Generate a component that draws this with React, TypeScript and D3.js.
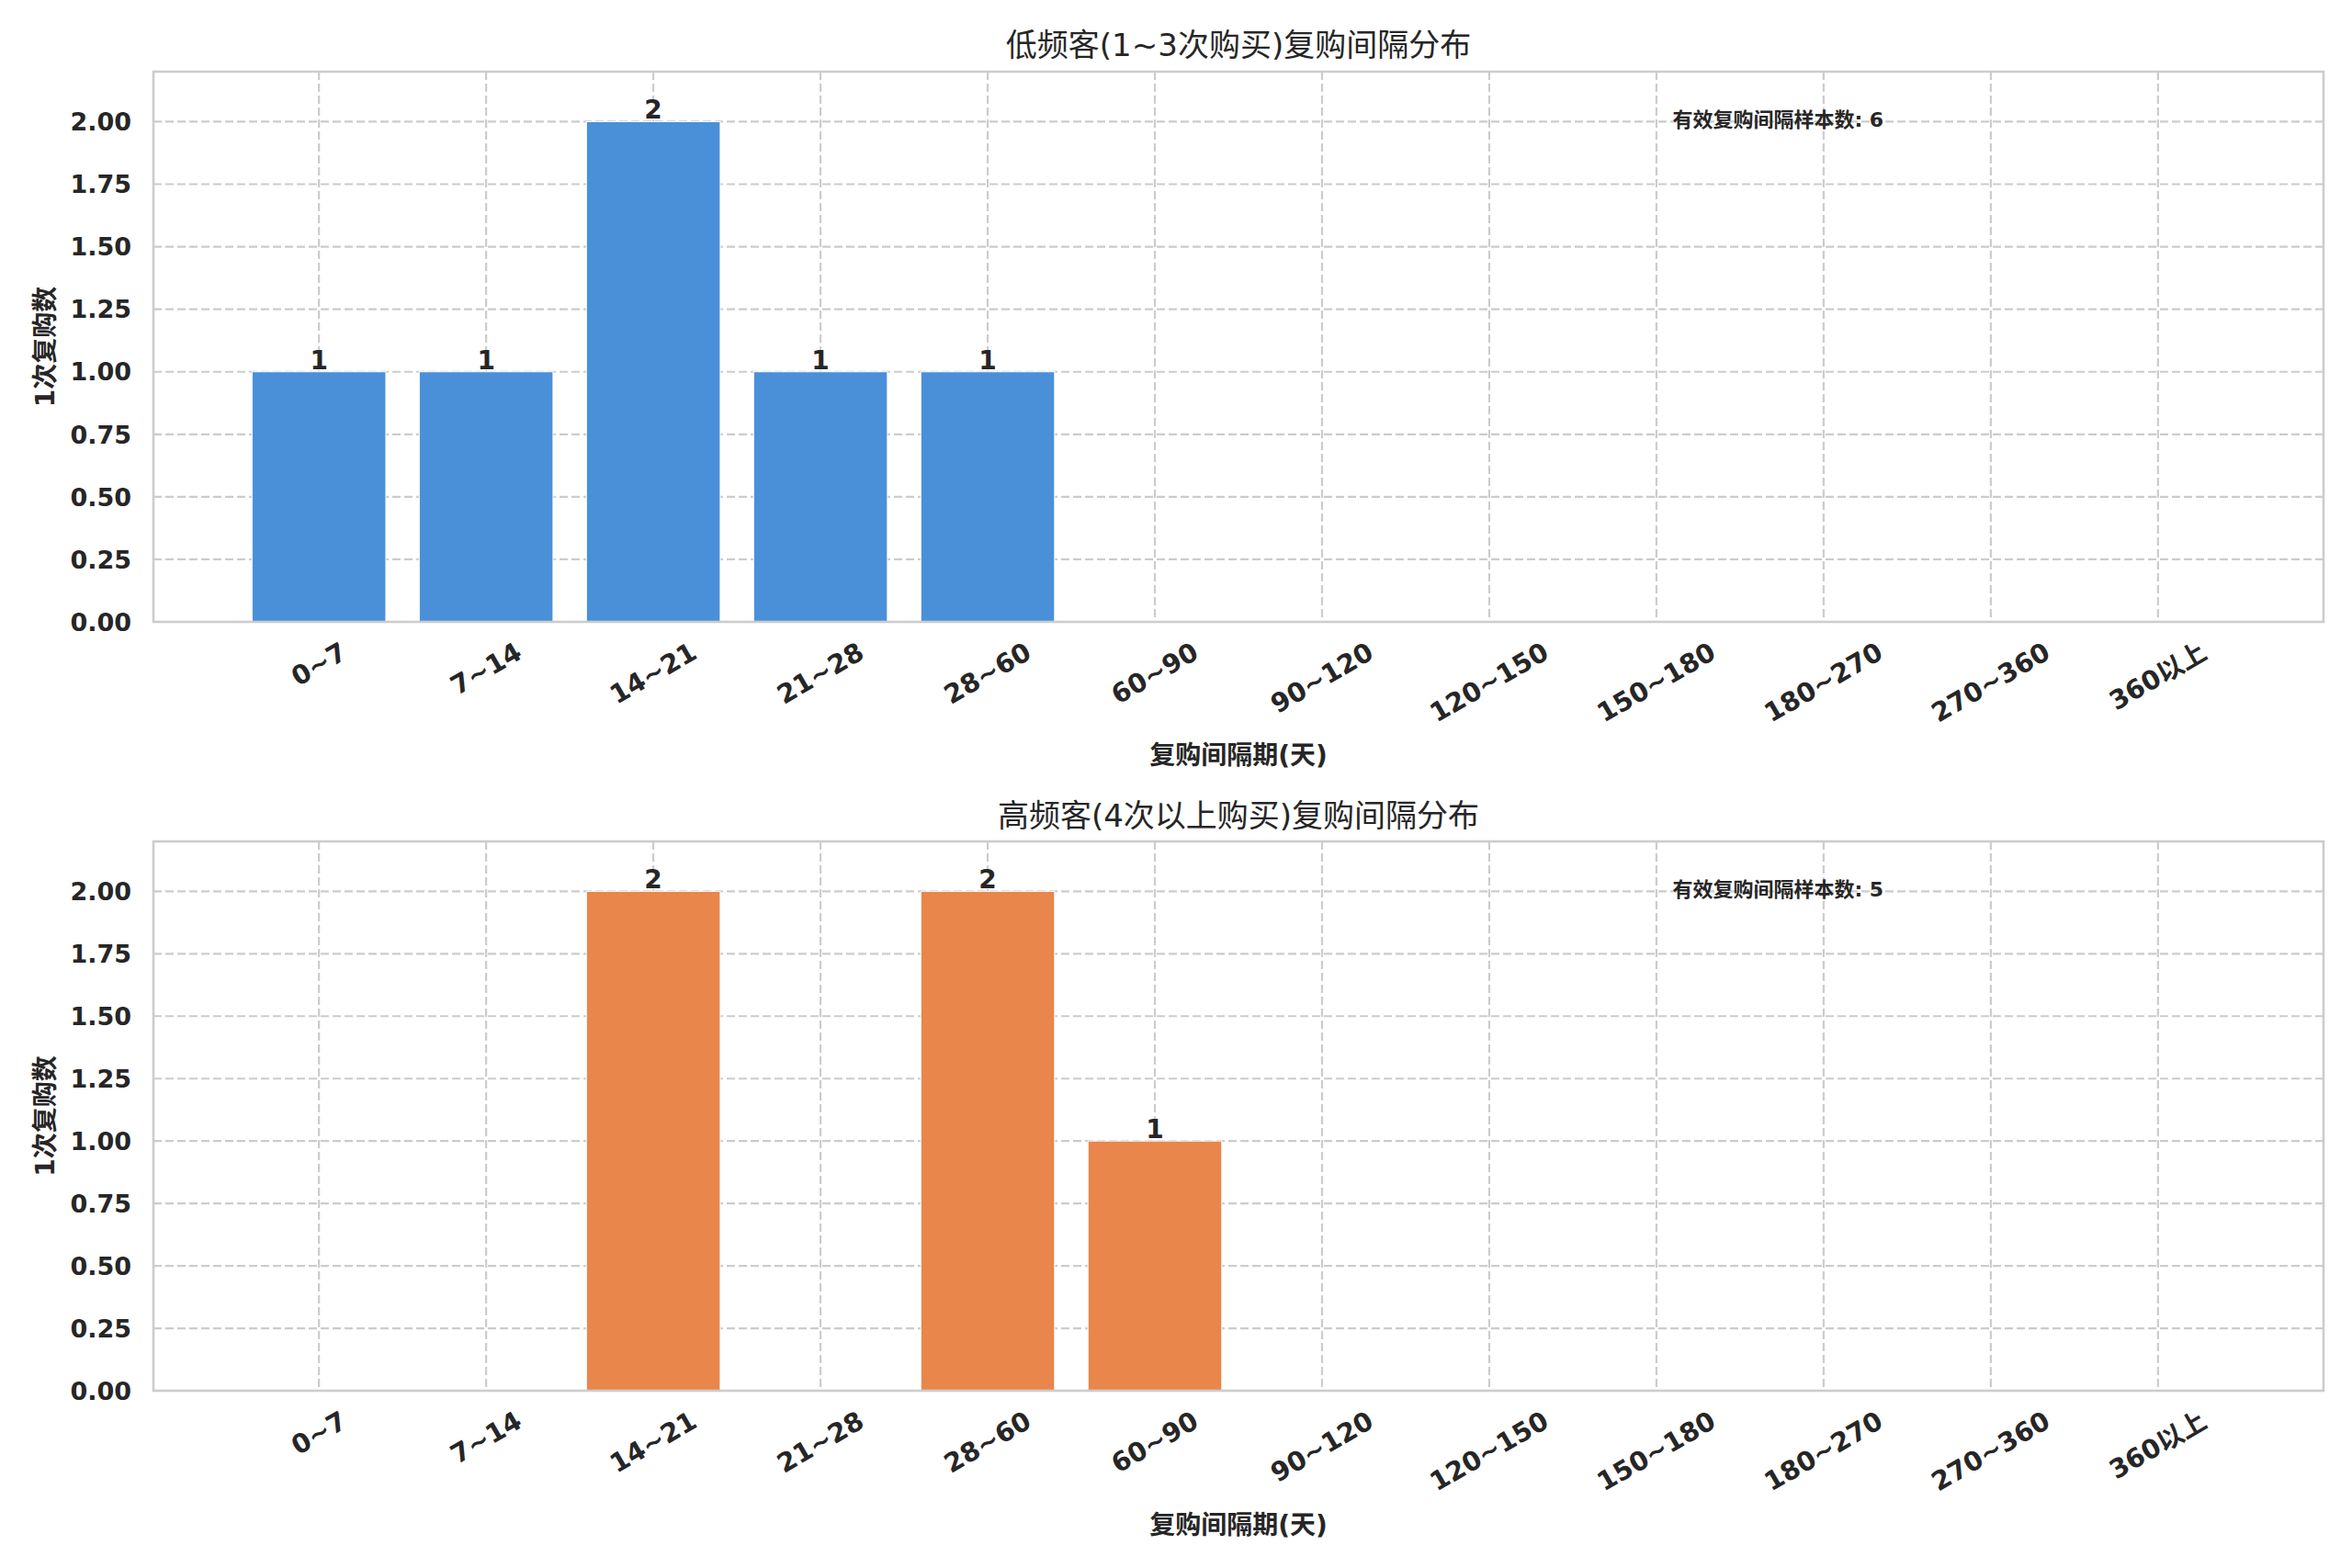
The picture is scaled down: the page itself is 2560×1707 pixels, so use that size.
import React, { useEffect, useRef } from "react";
import * as d3 from "d3";

const categories = ["0~7", "7~14", "14~21", "21~28", "28~60", "60~90", "90~120", "120~150", "150~180", "180~270", "270~360", "360以上"];
const lowFreqCounts = [1, 1, 2, 1, 1, 0, 0, 0, 0, 0, 0, 0];
const highFreqCounts = [0, 0, 2, 0, 2, 1, 0, 0, 0, 0, 0, 0];
const yTicks = [0, 0.25, 0.5, 0.75, 1.0, 1.25, 1.5, 1.75, 2.0];
const panelTitles = ["低频客(1~3次购买)复购间隔分布", "高频客(4次以上购买)复购间隔分布"];
const xLabelText = "复购间隔期(天)";
const yLabelText = "1次复购数";
const noteLabel = "有效复购间隔样本数";
const panelColors = ["#4a90d9", "#e8864c"];

const W = 2560;
const H = 1707;
const FONT = "'DejaVu Sans', 'Noto Sans CJK SC', sans-serif";
const TEXT = "#262626";

export default function App() {
  const ref = useRef<SVGSVGElement | null>(null);

  useEffect(() => {
    const svg = d3.select(ref.current);
    svg.selectAll("*").remove();

    const left = 167;
    const right = 2529;
    const panels = [
      { top: 78, bottom: 677, data: lowFreqCounts, title: panelTitles[0], color: panelColors[0], titleY: 49, xlabY: 822 },
      { top: 916, bottom: 1514, data: highFreqCounts, title: panelTitles[1], color: panelColors[1], titleY: 888, xlabY: 1660 },
    ];

    const x = d3.scaleLinear().domain([-0.99, categories.length - 1 + 0.99]).range([left, right]);
    const unit = x(1) - x(0);

    panels.forEach((p) => {
      const y = d3.scaleLinear().domain([0, 2.2]).range([p.bottom, p.top]);
      const g = svg.append("g");

      // grid
      g.selectAll("line.hg")
        .data(yTicks)
        .enter()
        .append("line")
        .attr("x1", left)
        .attr("x2", right)
        .attr("y1", (d) => y(d))
        .attr("y2", (d) => y(d))
        .attr("stroke", "#cccccc")
        .attr("stroke-width", 2.2)
        .attr("stroke-dasharray", "9,4");
      g.selectAll("line.vg")
        .data(categories)
        .enter()
        .append("line")
        .attr("x1", (_, i) => x(i))
        .attr("x2", (_, i) => x(i))
        .attr("y1", p.top)
        .attr("y2", p.bottom)
        .attr("stroke", "#cccccc")
        .attr("stroke-width", 2.2)
        .attr("stroke-dasharray", "9,4");

      // bars
      const bw = unit * 0.8;
      g.selectAll("rect.bar")
        .data(p.data)
        .enter()
        .append("rect")
        .attr("x", (_, i) => x(i) - bw / 2)
        .attr("width", bw)
        .attr("y", (d) => y(d))
        .attr("height", (d) => y(0) - y(d))
        .attr("fill", p.color)
        .attr("stroke", "#ffffff")
        .attr("stroke-width", (d) => (d > 0 ? 1 : 0));

      // value labels
      g.selectAll("text.val")
        .data(p.data.map((v, i) => ({ v, i })).filter((d) => d.v > 0))
        .enter()
        .append("text")
        .attr("x", (d) => x(d.i))
        .attr("y", (d) => y(d.v) - 3)
        .attr("text-anchor", "middle")
        .attr("font-family", FONT)
        .attr("font-weight", "bold")
        .attr("font-size", 28)
        .attr("fill", TEXT)
        .text((d) => String(d.v));

      // spines
      g.append("rect")
        .attr("x", left)
        .attr("y", p.top)
        .attr("width", right - left)
        .attr("height", p.bottom - p.top)
        .attr("fill", "none")
        .attr("stroke", "#cccccc")
        .attr("stroke-width", 2.6);

      // y tick labels
      g.selectAll("text.yt")
        .data(yTicks)
        .enter()
        .append("text")
        .attr("x", 143)
        .attr("y", (d) => y(d))
        .attr("dy", "0.36em")
        .attr("text-anchor", "end")
        .attr("font-family", FONT)
        .attr("font-weight", "bold")
        .attr("font-size", 27)
        .attr("fill", TEXT)
        .text((d) => d3.format(".2f")(d));

      // x tick labels rotated 30deg
      const fs = 28.5;
      categories.forEach((c, i) => {
        const t = g
          .append("text")
          .attr("text-anchor", "middle")
          .attr("dominant-baseline", "central")
          .attr("font-family", FONT)
          .attr("font-weight", "bold")
          .attr("font-size", fs)
          .attr("fill", TEXT)
          .text(c);
        const w = (t.node() as SVGTextElement).getComputedTextLength();
        const h = fs * 1.17;
        const bh = w * Math.sin(Math.PI / 6) + h * Math.cos(Math.PI / 6);
        const cy = p.bottom + 16 + bh / 2;
        t.attr("transform", `translate(${x(i)},${cy}) rotate(-30)`);
      });

      // title
      g.append("text")
        .attr("x", (left + right) / 2)
        .attr("y", p.titleY)
        .attr("dominant-baseline", "central")
        .attr("text-anchor", "middle")
        .attr("font-family", FONT)
        .attr("font-size", 34)
        .attr("fill", TEXT)
        .text(p.title);

      // x label
      g.append("text")
        .attr("x", (left + right) / 2)
        .attr("y", p.xlabY)
        .attr("dominant-baseline", "central")
        .attr("text-anchor", "middle")
        .attr("font-family", FONT)
        .attr("font-weight", "bold")
        .attr("font-size", 28)
        .attr("fill", TEXT)
        .text(xLabelText);

      // y label
      g.append("text")
        .attr("transform", `translate(49,${(p.top + p.bottom) / 2}) rotate(-90)`)
        .attr("dominant-baseline", "central")
        .attr("text-anchor", "middle")
        .attr("font-family", FONT)
        .attr("font-weight", "bold")
        .attr("font-size", 28)
        .attr("fill", TEXT)
        .text(yLabelText);

      // note
      const total = d3.sum(p.data);
      g.append("text")
        .attr("x", left + 0.7 * (right - left))
        .attr("y", p.top + 0.087 * (p.bottom - p.top))
        .attr("dominant-baseline", "central")
        .attr("font-family", FONT)
        .attr("font-weight", "bold")
        .attr("font-size", 22)
        .attr("fill", TEXT)
        .text(`${noteLabel}: ${total}`);
    });
  }, []);

  return (
    <svg
      ref={ref}
      width={W}
      height={H}
      viewBox={`0 0 ${W} ${H}`}
      style={{ position: "absolute", left: 0, top: 0, background: "#ffffff", display: "block" }}
    />
  );
}
